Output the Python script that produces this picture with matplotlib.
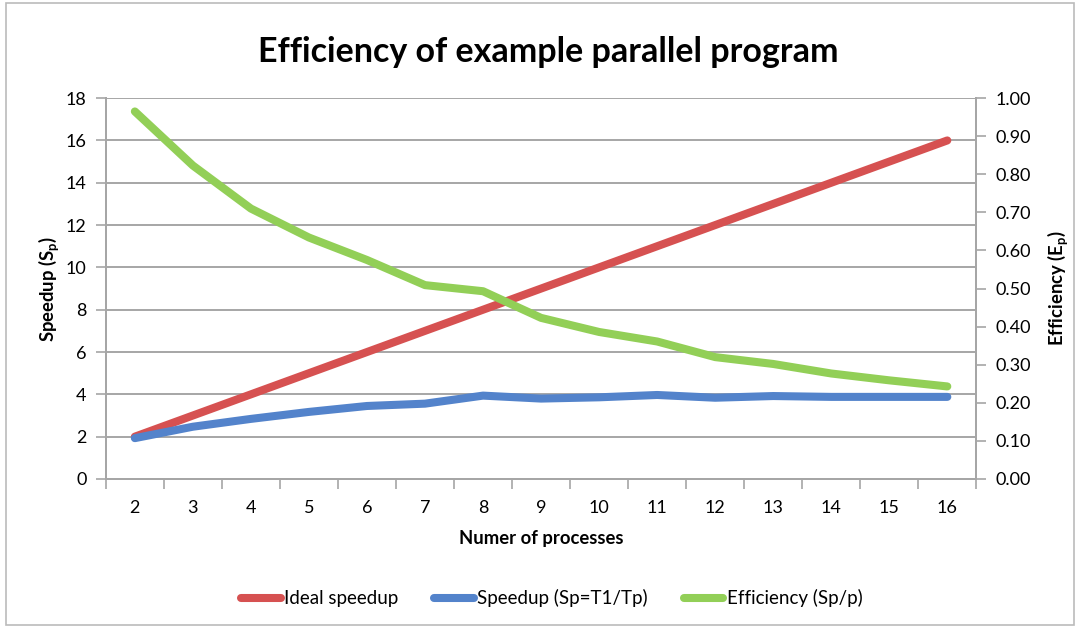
import matplotlib
matplotlib.use('Agg')
import matplotlib.pyplot as plt
from matplotlib.patches import Rectangle

# === 字型設定 ===
plt.rcParams['font.family'] = ['Lato', 'DejaVu Sans']
plt.rcParams['mathtext.fontset'] = 'custom'
plt.rcParams['mathtext.rm'] = 'Lato'
plt.rcParams['mathtext.bf'] = 'Lato:bold'

# === 數據 ===
processes = [2, 3, 4, 5, 6, 7, 8, 9, 10, 11, 12, 13, 14, 15, 16]
ideal_speedup = [2, 3, 4, 5, 6, 7, 8, 9, 10, 11, 12, 13, 14, 15, 16]
speedup = [1.93, 2.47, 2.84, 3.17, 3.45, 3.56, 3.94, 3.80, 3.86, 3.97,
           3.84, 3.92, 3.88, 3.88, 3.88]
efficiency = [0.965, 0.823, 0.710, 0.634, 0.575, 0.509, 0.493, 0.423, 0.386,
              0.361, 0.320, 0.302, 0.277, 0.259, 0.243]
left_ticks = [0, 2, 4, 6, 8, 10, 12, 14, 16, 18]
right_ticks = [0.0, 0.1, 0.2, 0.3, 0.4, 0.5, 0.6, 0.7, 0.8, 0.9, 1.0]
legend_labels = ["Ideal speedup", "Speedup (Sp=T1/Tp)", "Efficiency (Sp/p)"]

RED = "#D65151"
BLUE = "#5383CB"
GREEN = "#92CF57"
GRID = "#A6A6A6"
LW = 5.8

fig = plt.figure(figsize=(10.8, 6.29), dpi=100)
fig.patches.append(Rectangle((0.006, 0.006), 0.988, 0.99, transform=fig.transFigure,
                             fill=False, edgecolor="#BBBBBB", linewidth=1.2))

ax = fig.add_axes([0.098, 0.2385, 0.806, 0.6055])
ax2 = ax.twinx()

l1, = ax.plot(processes, ideal_speedup, color=RED, lw=LW, solid_capstyle='round',
              solid_joinstyle='round', zorder=3)
l2, = ax.plot(processes, speedup, color=BLUE, lw=LW, solid_capstyle='round',
              solid_joinstyle='round', zorder=3)
l3, = ax2.plot(processes, efficiency, color=GREEN, lw=LW, solid_capstyle='round',
               solid_joinstyle='round', zorder=3)

ax.set_xlim(1.5, 16.5)
ax.set_ylim(0, 18)
ax2.set_ylim(0, 1.0)

ax.set_yticks(left_ticks)
ax.set_yticklabels([str(t) for t in left_ticks])
ax2.set_yticks(right_ticks)
ax2.set_yticklabels([f"{t:.2f}" for t in right_ticks])

# 類別軸: 刻度在類別之間
ax.set_xticks(processes)
ax.set_xticklabels([str(p) for p in processes])
ax.set_xticks([p + 0.5 for p in [1] + processes], minor=True)
ax.tick_params(axis='x', which='major', length=0, pad=15, labelsize=13)
ax.tick_params(axis='x', which='minor', length=7, width=1.2, color=GRID)
ax.tick_params(axis='y', length=7, width=1.2, color=GRID, labelsize=13, pad=7)
ax2.tick_params(axis='y', length=7, width=1.2, color=GRID, labelsize=13, pad=7)

ax.grid(axis='y', color=GRID, linewidth=1.4)
ax.set_axisbelow(True)

for a in (ax, ax2):
    a.spines['top'].set_visible(False)
    for s in ('left', 'right', 'bottom'):
        a.spines[s].set_color(GRID)
        a.spines[s].set_linewidth(1.4)

ax.set_xlabel("Numer of processes", fontsize=13.3, fontweight='bold', labelpad=10)
ax.set_ylabel(r"Speedup ($\mathbf{S_p}$)", fontsize=13.3, fontweight='bold', labelpad=3)
ax2.set_ylabel(r"Efficiency ($\mathbf{E_p}$)", fontsize=13.3, fontweight='bold', labelpad=10)

fig.suptitle("Efficiency of example parallel program", x=0.508, y=0.942,
             fontsize=24.5, fontweight='bold')

fig.legend([l1, l2, l3], legend_labels, loc='center', bbox_to_anchor=(0.511, 0.049),
           ncol=3, frameon=False, fontsize=13.5, handlelength=2.1, handletextpad=0.2,
           columnspacing=1.9)

fig.savefig("out.png", dpi=100)
